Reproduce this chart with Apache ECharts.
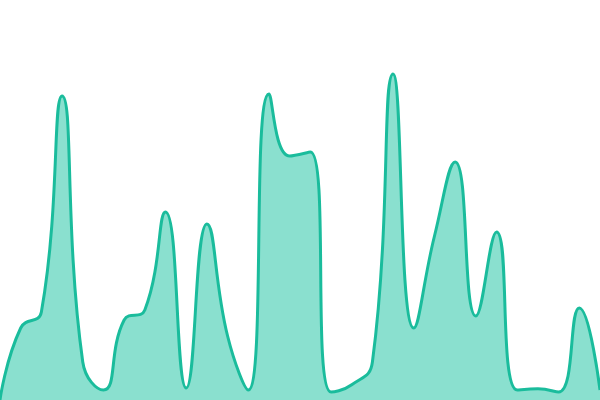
<!DOCTYPE html>
<html>
<head>
<meta charset="utf-8">
<style>
  html, body { margin: 0; padding: 0; background: #fff; }
  #chart { width: 600px; height: 400px; }
</style>
<script src="https://cdn.jsdelivr.net/npm/echarts@6/dist/echarts.min.js"></script>
</head>
<body>
<div id="chart"></div>
<script>
// 資料
var categories = [];
for (var i = 1; i <= 30; i++) categories.push('D' + i);
var values = [0, 18, 22, 76, 9.5, 2.5, 20, 22.5, 47, 3,
              44, 16, 2.5, 76.5, 61, 62, 2, 3.8, 9.5, 81.5,
              18, 41, 59.5, 21, 42, 2.5, 2.8, 2, 23, 2.5];

var chart = echarts.init(document.getElementById('chart'));

var option = {
    animation: false,
    grid: { left: 0, right: 0, top: 0, bottom: 0 },
    xAxis: {
        type: 'category',
        data: categories,
        boundaryGap: false,
        show: false
    },
    yAxis: {
        type: 'value',
        min: 0,
        max: 100,
        show: false
    },
    series: [
        {
            type: 'line',
            data: values,
            smooth: true,
            symbol: 'none',
            lineStyle: { color: '#1abc9c', width: 3 },
            areaStyle: { color: '#8ae0cf', opacity: 1 }
        }
    ]
};
chart.setOption(option);
</script>
</body>
</html>
